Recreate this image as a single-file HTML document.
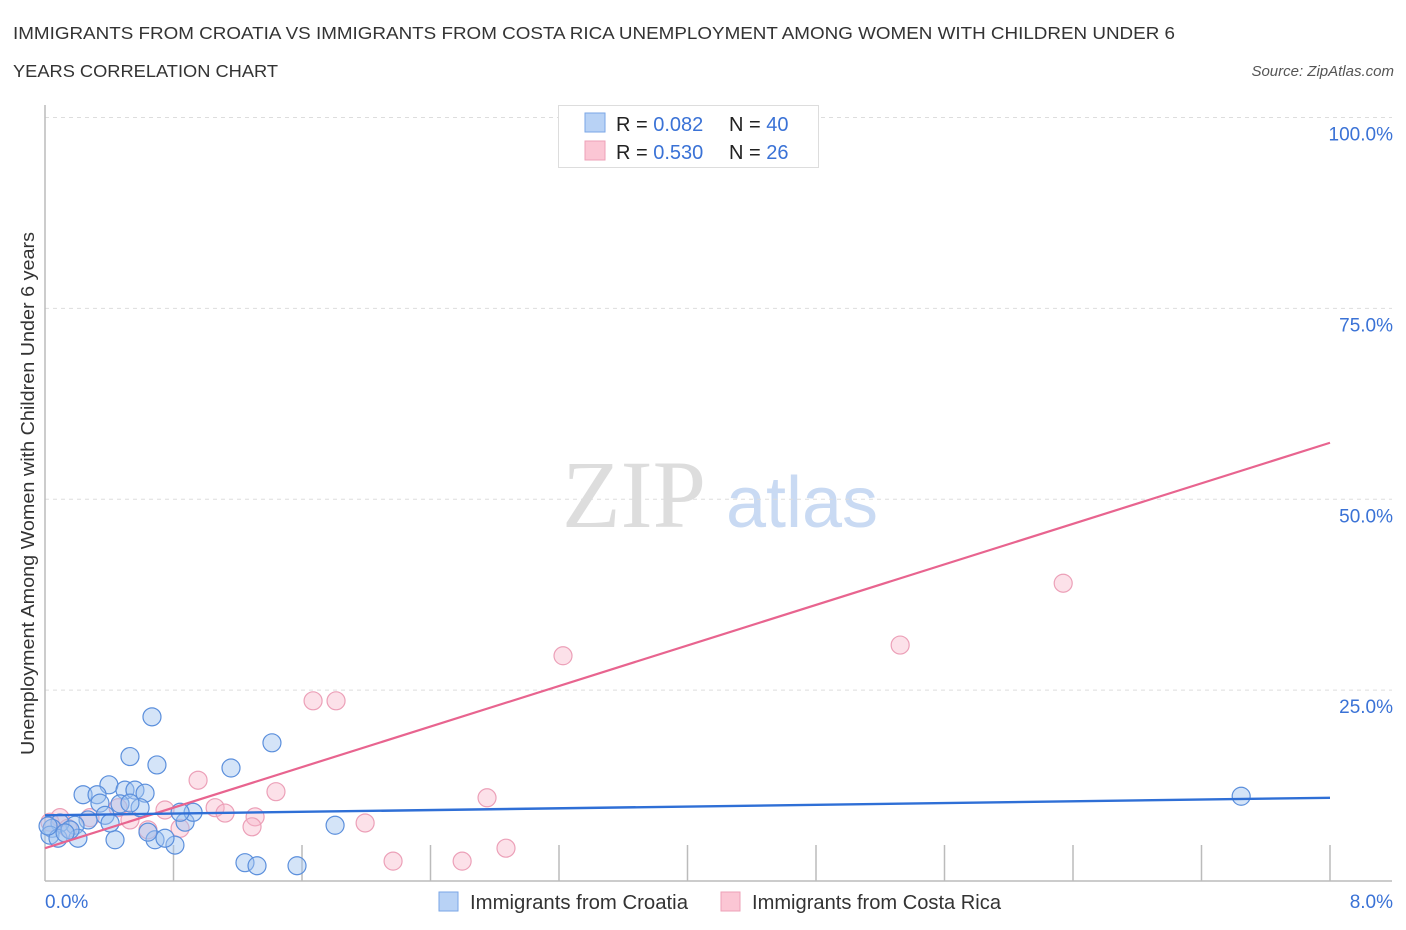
<!DOCTYPE html>
<html><head><meta charset="utf-8">
<style>
body{margin:0;background:#fff;font-family:"Liberation Sans",sans-serif;}
svg{display:block}
</style></head>
<body>
<svg id="chart" width="1406" height="930" xmlns="http://www.w3.org/2000/svg">
<text x="13" y="39" font-size="17.5" fill="#333" textLength="1162" lengthAdjust="spacingAndGlyphs">IMMIGRANTS FROM CROATIA VS IMMIGRANTS FROM COSTA RICA UNEMPLOYMENT AMONG WOMEN WITH CHILDREN UNDER 6</text>
<text x="13" y="77" font-size="17.5" fill="#333" textLength="265" lengthAdjust="spacingAndGlyphs">YEARS CORRELATION CHART</text>
<text x="1394" y="76" font-size="15" fill="#555" font-style="italic" text-anchor="end">Source: ZipAtlas.com</text>
<text transform="translate(34,755) rotate(-90)" font-size="18" fill="#333" textLength="523" lengthAdjust="spacingAndGlyphs">Unemployment Among Women with Children Under 6 years</text>
<g>
<text x="634" y="527" font-size="96" font-family="Liberation Serif,serif" fill="#ddd" text-anchor="middle">ZIP</text>
<text x="802" y="527" font-size="72" fill="#c9daf3" text-anchor="middle">atlas</text>
</g>
<g id="grid"></g>
<g id="axes"></g>
<g id="marks"></g>
<g>
<rect x="558.5" y="105.5" width="260" height="62" fill="#fff" stroke="#ddd"/>
<rect x="585" y="113" width="20" height="19" fill="#b8d2f5" stroke="#7aa6e6"/>
<rect x="585" y="141" width="20" height="19" fill="#fbc6d4" stroke="#eea0b7"/>
<text font-size="20" fill="#222"><tspan x="616" y="131">R = </tspan><tspan fill="#3a72d6">0.082</tspan><tspan x="729">N = </tspan><tspan fill="#3a72d6">40</tspan></text>
<text font-size="20" fill="#222"><tspan x="616" y="159">R = </tspan><tspan fill="#3a72d6">0.530</tspan><tspan x="729">N = </tspan><tspan fill="#3a72d6"> 26</tspan></text>
</g>
<g>
<rect x="439" y="892" width="19" height="19" fill="#b8d2f5" stroke="#7aa6e6"/>
<text x="470" y="909" font-size="20" fill="#333" textLength="218" lengthAdjust="spacingAndGlyphs">Immigrants from Croatia</text>
<rect x="721" y="892" width="19" height="19" fill="#fbc6d4" stroke="#eea0b7"/>
<text x="752" y="909" font-size="20" fill="#333" textLength="249" lengthAdjust="spacingAndGlyphs">Immigrants from Costa Rica</text>
</g>
</svg>
<script>
const blueX=[0.666,0.529,0.697,1.158,1.413,0.398,0.237,0.324,0.498,0.560,0.623,0.342,0.467,0.592,0.374,0.268,0.187,0.093,0.044,0.031,0.081,0.205,0.436,0.685,0.809,0.641,0.872,0.922,1.806,1.245,1.320,1.569,7.447,0.156,0.125,0.019,0.529,0.841,0.747,0.405];
const blueY=[21.5,16.3,15.2,14.8,18.1,12.6,11.3,11.3,11.9,11.9,11.5,10.2,10.1,9.6,8.6,8.0,7.3,7.6,6.9,6.0,5.6,5.6,5.4,5.4,4.7,6.4,7.7,9.0,7.3,2.4,2.0,2.0,11.1,6.7,6.3,7.2,10.2,9.0,5.6,7.6];
const pinkX=[3.506,6.339,5.324,3.225,1.669,1.812,0.953,1.438,2.752,1.059,0.747,1.308,1.121,1.289,1.993,0.641,0.841,2.167,2.597,2.870,0.031,0.093,0.280,0.143,0.455,0.529];
const pinkY=[100,39.0,30.9,29.5,23.6,23.6,13.2,11.7,10.9,9.6,9.3,8.4,8.9,7.1,7.6,6.7,6.9,2.6,2.6,4.3,7.7,8.3,8.3,6.9,9.6,8.0];
const blueTrend=[8.6,10.9];
const pinkTrend=[4.3,57.4];
const yTicks=[25,50,75,100];
const yTickLabels=["25.0%","50.0%","75.0%","100.0%"];
const xEnds=[0,8];
const xEndLabels=["0.0%","8.0%"];

const NS="http://www.w3.org/2000/svg";
const X0=45,X1=1330,Y0=881,Y100=117.5;
const sx=v=>X0+(v/8)*(X1-X0);
const sy=v=>Y0-(v/100)*(Y0-Y100);
function mk(tag,attrs,parent){const e=document.createElementNS(NS,tag);for(const k in attrs)e.setAttribute(k,attrs[k]);parent.appendChild(e);return e;}
const grid=document.getElementById('grid'),axes=document.getElementById('axes'),marks=document.getElementById('marks');
yTicks.forEach((t,i)=>{
  const l=mk('line',{x1:X0,x2:1392,y1:sy(t),y2:sy(t),stroke:'#ddd','stroke-dasharray':'4 4'},grid);
  
  
  const tx=mk('text',{x:1393,y:sy(t)+23,'font-size':19,fill:'#3a72d6','text-anchor':'end'},axes);
  tx.textContent=yTickLabels[i];
  
  
});
const ya=mk('line',{x1:X0,x2:X0,y1:105,y2:Y0,stroke:'#bbb','stroke-width':1.5},axes);


const xa=mk('line',{x1:X0,x2:X1+62,y1:Y0,y2:Y0,stroke:'#bbb','stroke-width':1.5},axes);


for(let i=1;i<=10;i++){
  const v=i*0.8;
  const t=mk('line',{x1:sx(v),x2:sx(v),y1:Y0-36,y2:Y0,stroke:'#bbb','stroke-width':1.5},axes);
  
  
}
xEnds.forEach((v,i)=>{
  const tx=mk('text',{x:i===0?sx(v):sx(v)+63,y:908,'font-size':19,fill:'#3a72d6','text-anchor':i===0?'start':'end'},axes);
  tx.textContent=xEndLabels[i];
  
  
});
pinkX.forEach((x,i)=>{
  const c=mk('circle',{cx:sx(x),cy:sy(pinkY[i]),r:9,fill:'rgba(248,180,200,0.4)',stroke:'#eca0b8','stroke-width':1.2},marks);
  
  
});
blueX.forEach((x,i)=>{
  const c=mk('circle',{cx:sx(x),cy:sy(blueY[i]),r:9,fill:'rgba(160,196,240,0.45)',stroke:'#5b8fdc','stroke-width':1.2},marks);
  
  
});
const pl=mk('line',{x1:sx(0),x2:sx(8),y1:sy(pinkTrend[0]),y2:sy(pinkTrend[1]),stroke:'#e8648f','stroke-width':2.2},marks);


const bl=mk('line',{x1:sx(0),x2:sx(8),y1:sy(blueTrend[0]),y2:sy(blueTrend[1]),stroke:'#2f6fd6','stroke-width':2.4},marks);


</script>
</body></html>
